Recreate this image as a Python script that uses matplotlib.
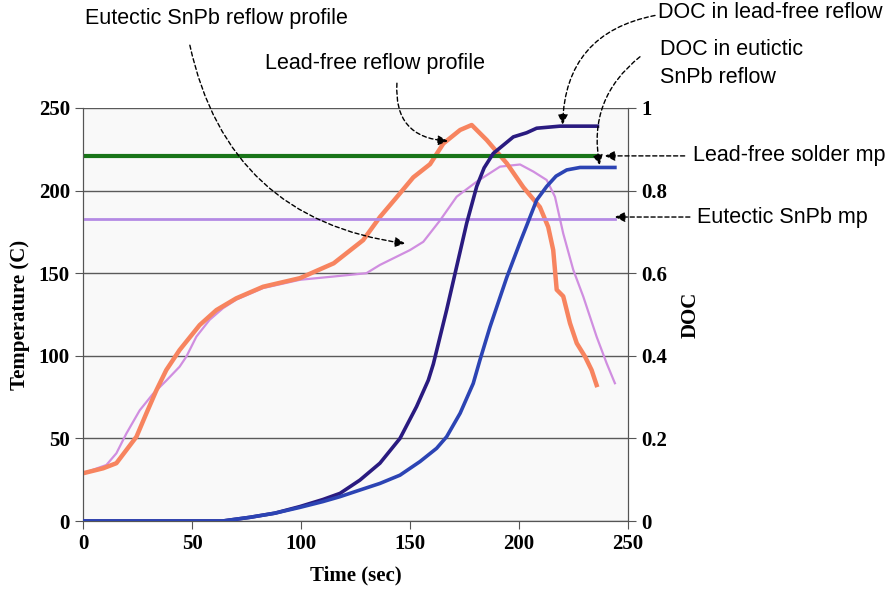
import matplotlib.pyplot as plt
import numpy as np

# ---- data ----
# lead-free reflow profile (temperature, C)
lf_time = [0, 9.2, 15.3, 19.9, 24.5, 29, 33.6, 38.2, 44.3, 53.5, 61.2, 70.3, 82.6,
           99.5, 115, 128.5, 136.2, 143.9, 151.5, 159.2, 165.3, 173, 178.3, 185.2,
           194.4, 202, 209.6, 213.4, 215.7, 217.3, 220.3, 223.4, 226.5, 230.3, 233.3,
           235.6]
lf_temp = [28.9, 31.9, 35, 43, 51, 65, 79, 91.4, 103.5, 118.6, 127.7, 134.8, 141.8,
           147, 156, 170, 184, 196, 208, 216, 228.5, 236.7, 239.7, 230.6,
           216.5, 202, 190, 178, 164, 140, 136, 119.7, 107.6, 99.5, 91.4,
           82.3]

# eutectic SnPb reflow profile
sp_time = [0, 10.7, 15.3, 19.9, 26, 32.1, 38.2, 44.3, 47.4, 52, 58, 64.2, 70.3, 82.6,
           99.5, 115, 130, 136.2, 150, 156.1, 163.8, 171.4, 180.6, 191.3, 200.5,
           206.6, 212.7, 216.5, 220.3, 224.9, 229.5, 235.6, 240.2, 244]
sp_temp = [28.9, 33.9, 41, 53, 67, 77, 85, 93.4, 99.5, 111.6, 121.7, 128.8, 134, 141,
           146, 148, 150, 155, 164, 169, 182, 196.3, 205.4, 214.5, 215.8,
           211.5, 206.4, 196.3, 174, 152, 135.8, 111.6, 95.5, 83.4]

# degree of cure
doc_lf_time = [0, 64, 76.6, 88, 99.5, 110, 117.9, 127, 136.2, 145.4, 153, 158.4, 160.7,
               166.8, 171.4, 176, 180.6, 184, 188.2, 197.4, 203.5, 208.1, 218.8, 236]
doc_lf = [0, 0, 0.009, 0.019, 0.035, 0.052, 0.067, 0.099, 0.14, 0.2, 0.277, 0.341,
          0.38, 0.511, 0.616, 0.721, 0.81, 0.855, 0.89, 0.93, 0.94, 0.951, 0.956, 0.956]
doc_sp_time = [0, 64, 76.6, 88, 99.5, 110, 117.9, 127, 136.2, 145.4, 154.6, 162.2,
               166.8, 173, 179, 182.1, 186.7, 194.4, 200.5, 203.5, 208.1, 212.7, 217,
               221.9, 228, 244]
doc_sp = [0, 0, 0.009, 0.019, 0.033, 0.047, 0.059, 0.075, 0.091, 0.111, 0.144, 0.176,
          0.204, 0.261, 0.333, 0.39, 0.47, 0.59, 0.675, 0.715, 0.777, 0.81, 0.835,
          0.85, 0.856, 0.856]

# melting points
mp_lf, mp_lf_end = 221, 236
mp_sp, mp_sp_end = 183, 244

serif = 'Liberation Serif'
sans = 'Liberation Sans'

fig = plt.figure(figsize=(8.9, 5.92), dpi=100)
ax = fig.add_axes([0.0933, 0.1199, 0.6123, 0.6977])
ax.set_facecolor('#f9f9f9')

ax.plot(sp_time, sp_temp, color='#d08ee0', lw=1.6, zorder=3)
ax.plot(lf_time, lf_temp, color='#f7845f', lw=3.2, zorder=4)
ax.plot([0, mp_lf_end], [mp_lf, mp_lf], color='#197519', lw=3, zorder=5)
ax.plot([0, mp_sp_end], [mp_sp, mp_sp], color='#b48ae4', lw=2, zorder=5)

ax.set_xlim(0, 250)
ax.set_ylim(0, 250)
ax.set_xticks(np.arange(0, 251, 50))
ax.set_yticks(np.arange(0, 251, 50))
ax.grid(axis='y', color='#5a5a5a', lw=1)
ax.set_axisbelow(True)
ax.spines['top'].set_visible(False)
for s in ['left', 'bottom', 'right']:
    ax.spines[s].set_color('#555555')
ax.tick_params(direction='out', length=6, color='#555555', labelsize=15)
for lab in ax.get_xticklabels() + ax.get_yticklabels():
    lab.set_family(serif)
    lab.set_fontweight('bold')
ax.set_xlabel('Time (sec)', family=serif, fontweight='bold', fontsize=15, labelpad=8)
ax.set_ylabel('Temperature (C)', family=serif, fontweight='bold', fontsize=15, labelpad=6)

ax2 = ax.twinx()
ax2.plot(doc_lf_time, doc_lf, color='#2a1b80', lw=2.6, zorder=3)
ax2.plot(doc_sp_time, doc_sp, color='#2c44b4', lw=2.6, zorder=3)
ax2.set_ylim(0, 1)
ax2.set_yticks([0, 0.2, 0.4, 0.6, 0.8, 1])
ax2.set_yticklabels(['0', '0.2', '0.4', '0.6', '0.8', '1'])
ax2.spines['top'].set_visible(False)
for s in ['left', 'bottom', 'right']:
    ax2.spines[s].set_color('#555555')
ax2.tick_params(direction='out', length=6, color='#555555', labelsize=15)
for lab in ax2.get_yticklabels():
    lab.set_family(serif)
    lab.set_fontweight('bold')
ax2.set_ylabel('DOC', family=serif, fontweight='bold', fontsize=15, labelpad=10)

# annotations
arr = dict(arrowstyle='-|>', color='black', lw=1, ls=(0, (3, 2)),
           shrinkA=0, shrinkB=0, mutation_scale=15)

def note(txt, xy, xytext, txt_xy, rad, **kw):
    ax2.annotate('', xy=xy, xycoords=ax.transData, xytext=xytext,
                 textcoords=ax.transData, annotation_clip=False,
                 arrowprops=dict(arr, connectionstyle=f'arc3,rad={rad}'))
    ax2.text(txt_xy[0], txt_xy[1], txt, transform=ax.transData, family=sans,
             fontsize=15.5, va='center', ha='left', clip_on=False, **kw)

note('Eutectic SnPb reflow profile', (147.7, 168), (49, 288), (1, 304), 0.35)
note('Lead-free reflow profile', (167.4, 230), (144, 265), (83.5, 277), 0.5)
note('DOC in lead-free reflow', (220, 240), (262.4, 306), (263.8, 307.5), 0.4)
note('DOC in eutictic\nSnPb reflow', (237, 215.5), (255.5, 281), (264.7, 277), 0.3,
     linespacing=1.45)
note('Lead-free solder mp', (239.4, 221), (276, 221), (280, 221), 0)
note('Eutectic SnPb mp', (244, 184), (278.4, 184), (281.7, 184), 0)

fig.savefig('out.png', dpi=100)
